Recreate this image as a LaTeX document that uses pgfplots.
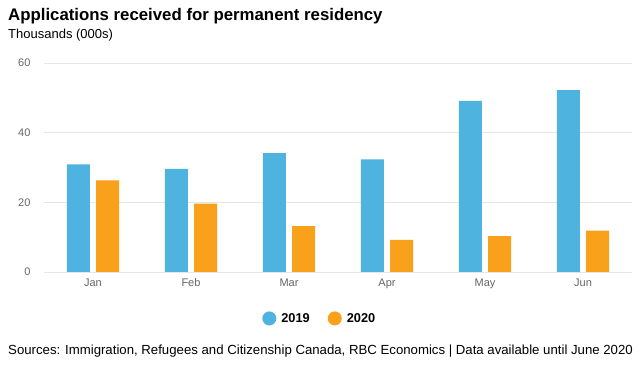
\documentclass[border=0pt]{standalone}
\usepackage{pgfplots}
\pgfplotsset{compat=1.18}
\usepackage{fontspec}
\setmainfont{Liberation Sans}
\definecolor{c2019}{HTML}{4FB3E0}
\definecolor{c2020}{HTML}{F9A11B}
\definecolor{gridc}{HTML}{E6E6E6}
\definecolor{tickc}{HTML}{666666}
\begin{document}
\begin{tikzpicture}
\path[use as bounding box,fill=white] (0,0) rectangle (640pt,375pt);
\node[anchor=base west,inner sep=0pt,font=\fontsize{16.8}{19}\selectfont\bfseries] at (8pt,354pt) {Applications received for permanent residency};
\node[anchor=base west,inner sep=0pt,font=\fontsize{13}{15}\selectfont] at (8pt,336pt) {Thousands (000s)};
\node[anchor=base west,inner sep=0pt,font=\fontsize{13.2}{15}\selectfont] at (8pt,20pt) {Sources: Immigration, Refugees and Citizenship Canada, RBC Economics | Data available until June 2020};
\begin{axis}[
  at={(44pt,103pt)}, anchor=south west,
  scale only axis, width=588pt, height=209pt,
  xmin=-0.5, xmax=5.5, ymin=0, ymax=60,
  xtick={0,1,2,3,4,5},
  xticklabels={Jan,Feb,Mar,Apr,May,Jun},
  ytick={0,20,40,60},
  axis x line=bottom, axis y line=left,
  axis line style={draw=none},
  ymajorgrids, grid style={gridc, line width=0.8pt},
  major tick length=0pt,
  tick label style={font=\fontsize{11}{13}\selectfont, text=tickc},
  /pgf/number format/assume math mode=true,
  yticklabel style={xshift=-10pt},
  xticklabel style={yshift=-3pt},
  legend style={at={(0.469,-0.222)}, anchor=center, draw=none, fill=none,
    legend columns=2, font=\fontsize{12.8}{15}\selectfont\bfseries,
    /tikz/every odd column/.append style={column sep=3pt},
    /tikz/every even column/.append style={column sep=16pt}},
  legend cell align=left,
]
\draw[gridc!80!black!60, line width=0.8pt] (axis cs:-0.5,0) -- (axis cs:5.5,0);
\addplot[draw=none, fill=c2019, ybar, bar width=0.235, bar shift=-0.15,
  legend image code/.code={\fill[c2019] (0pt,0pt) circle (7pt);}]
  coordinates {(0,30.9) (1,29.6) (2,34.1) (3,32.3) (4,49.1) (5,52.2)};
\addlegendentry{2019}
\addplot[draw=none, fill=c2020, ybar, bar width=0.235, bar shift=0.15,
  legend image code/.code={\fill[c2020] (0pt,0pt) circle (7pt);}]
  coordinates {(0,26.3) (1,19.6) (2,13.2) (3,9.2) (4,10.3) (5,11.9)};
\addlegendentry{2020}
\end{axis}
\end{tikzpicture}
\end{document}
